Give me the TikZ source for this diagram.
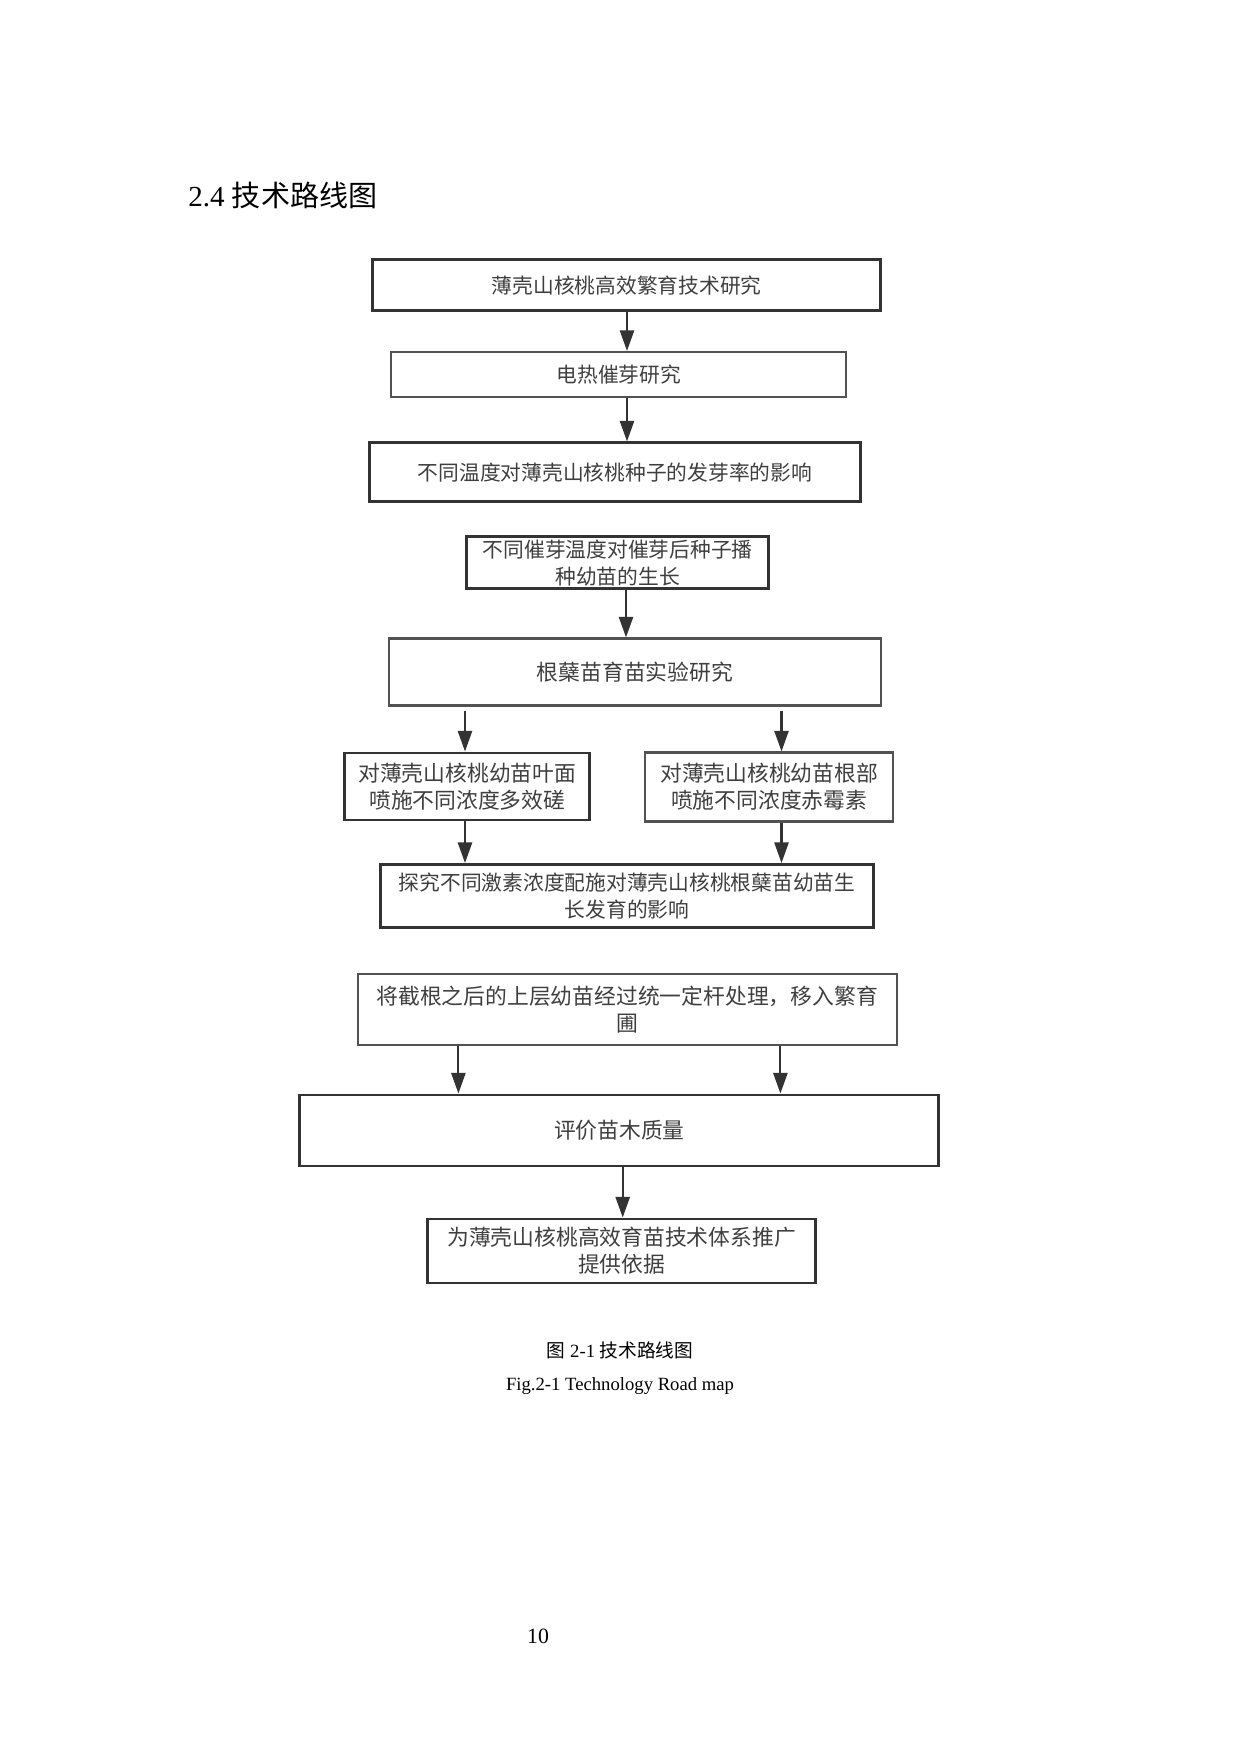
\documentclass[tikz,border=0pt]{standalone}
\usepackage{fontspec}
\setmainfont{Liberation Serif}
\newfontfamily\cjk{Noto Sans CJK SC}
\usetikzlibrary{arrows.meta}
\newcommand\pxu{0.16935mm}
\definecolor{linegray}{HTML}{333333}
\definecolor{textgray}{HTML}{3F3F3F}
\tikzset{
  box/.style 2 args={draw=linegray, line width=0.5mm, fill=white, text=textgray, align=center, inner sep=0pt,
    minimum width=#1*\pxu, minimum height=#2*\pxu, font=\cjk\fontsize{10}{12.8}\selectfont},
  lightbox/.style={line width=0.36mm, draw=linegray!85},
  bigtext/.style={font=\cjk\fontsize{10.5}{13}\selectfont},
  arr/.style={draw=linegray, line width=0.36mm, -{Triangle[length=3.5mm, width=2.4mm]}},
  captext/.style={font=\fontsize{9}{11}\selectfont, inner sep=0pt}
}
\begin{document}
\begin{tikzpicture}[x=\pxu, y=-\pxu]
\useasboundingbox (0,0) rectangle (1240,1754);

\node[anchor=west, inner sep=0pt, font=\fontsize{14}{16}\selectfont] (title) at (188,195) {2.4 {\cjk 技术路线图}};

\node[box={508}{51}] (b1) at (626.7,285.1) {薄壳山核桃高效繁育技术研究};
\node[box={455}{45}, lightbox] (b2) at (618.8,374.5) {电热催芽研究};
\node[box={491}{59}] (b3) at (614.9,472.4) {不同温度对薄壳山核桃种子的发芽率的影响};
\node[box={302}{52}] (b4) at (617.7,562.9) {不同催芽温度对催芽后种子播\\种幼苗的生长};
\node[box={492}{67}, lightbox, bigtext] (b5) at (635,672) {根蘖苗育苗实验研究};
\node[box={245}{67}, bigtext] (b6l) at (467.3,786.5) {对薄壳山核桃幼苗叶面\\喷施不同浓度多效磋};
\node[box={248}{69}, lightbox, bigtext] (b6r) at (769.2,787) {对薄壳山核桃幼苗根部\\喷施不同浓度赤霉素};
\node[box={493}{63}] (b7) at (627.2,896) {探究不同激素浓度配施对薄壳山核桃根蘖苗幼苗生\\长发育的影响};
\node[box={539}{71}, lightbox, bigtext] (b8) at (627.2,1009.5) {将截根之后的上层幼苗经过统一定杆处理，移入繁育\\圃};
\node[box={639}{71}, bigtext] (b9) at (619.4,1130.5) {评价苗木质量};
\node[box={388}{64}, bigtext] (b10) at (621.6,1251) {为薄壳山核桃高效育苗技术体系推广\\提供依据};

% arrow columns
\coordinate (c0) at (627,0);
\coordinate (c1) at (626,0);
\coordinate (cl) at (465,0);
\coordinate (cr) at (781.5,0);
\coordinate (dl) at (458.4,0);
\coordinate (dr) at (780.4,0);
\coordinate (c2) at (622.7,0);

\draw[arr] (b1.south -| c0) -- (b2.north -| c0);
\draw[arr] (b2.south -| c0) -- (b3.north -| c0);
\draw[arr] (b4.south -| c1) -- (b5.north -| c1);
\draw[arr, shorten <=0.7mm] (b5.south -| cl) -- (b6l.north -| cl);
\draw[arr, shorten <=0.7mm] (b5.south -| cr) -- (b6r.north -| cr);
\draw[arr] (b6l.south -| cl) -- (b7.north -| cl);
\draw[arr] (b6r.south -| cr) -- (b7.north -| cr);
\draw[arr] (b8.south -| dl) -- (b9.north -| dl);
\draw[arr] (b8.south -| dr) -- (b9.north -| dr);
\draw[arr] (b9.south -| c2) -- (b10.north -| c2);

\node[captext] (cap1) at (620,1350) {{\cjk 图} 2-1 {\cjk 技术路线图}};
\node[captext] (cap2) at (620,1386) {Fig.2-1 Technology Road map};
\node[font=\fontsize{10.5}{12}\selectfont, inner sep=0pt] (pg) at (538,1636) {10};
\end{tikzpicture}
\end{document}
